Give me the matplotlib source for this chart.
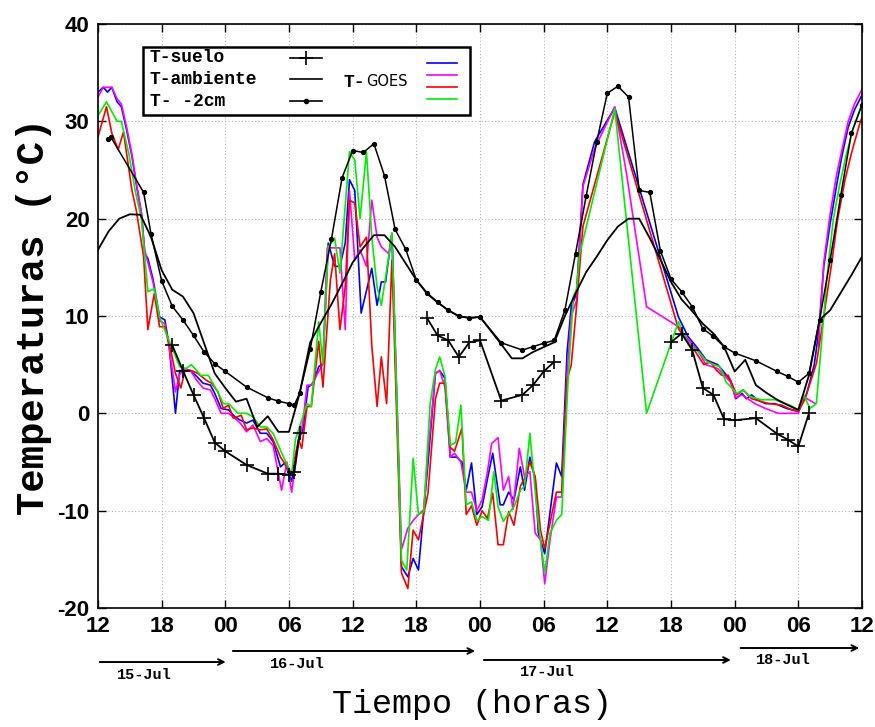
import matplotlib
matplotlib.use("Agg")
import matplotlib.pyplot as plt
import numpy as np

plt.rcParams['axes.unicode_minus'] = False

nan = np.nan

# hours since 15-Jul 12:00
xticks_h = list(range(0, 73, 6))
xtick_labels = ['12', '18', '00', '06', '12', '18', '00', '06', '12', '18', '00', '06', '12']
yticks_v = [-20, -10, 0, 10, 20, 30, 40]

suelo_h = [7, 8, 9, 10, 11, 12, 14, 16, 17, 18, 18.5, 19, nan,
           31, 32, 33, 34, 35, 36, 38, 40, 41, 42, 43, nan,
           54, 55, 56, 57, 58, 59, 60, 62, 64, 65, 66, 67]
suelo_v = [7.0, 4.4, 1.9, -0.5, -3.0, -3.9, -5.3, -6.2, -6.2, -6.3, -6.0, -2.05, nan,
           9.8, 8.0, 7.5, 5.8, 7.3, 7.5, 1.3, 1.9, 2.9, 4.3, 5.3, nan,
           7.3, 8.2, 6.5, 2.6, 1.9, -0.6, -0.7, -0.5, -2.1, -2.7, -3.4, 0.0]

amb_h = list(range(0, 73))
amb_v = [16.8, 18.7, 20.0, 20.45, 20.4, 18.1, 14.7, 12.7, 12.0, 10.3, 7.2, 4.1, 2.6, 1.2, 1.5,
         -1.4, -0.3, -1.9, -1.9, 2.05, 7.3, 9.3, 11.2, 13.3, 15.5, 17.0, 18.3, 18.3, 17.1, 15.4,
         13.7, 12.3, 11.4, 10.6, 10.0, 9.8, 9.9, 8.5, 7.1, 5.65, 5.65, 6.3, 6.8, 7.3, 10.0,
         12.3, 14.5, 16.1, 17.8, 19.2, 20.0, 20.0, 18.0, 15.8, 13.5, 11.7, 10.5, 9.2, 8.2,
         6.85, 4.3, 5.5, 2.9, 2.1, 1.4, 0.85, 0.35, 3.9, 9.6, 10.6, 12.4, 14.2, 16.1]

cm2_h = [0.9, 1.2, 4.3, 5, 6, 7, 8, 9, 10, 11, 12, 14, 16, 17, 18, 18.5,
         19, 20, 21, 22, 23, 24, 25, 26, 27, 28, 29, 30, 31, 32, 33, 34, 35, 36, 38,
         40, 41, 42, 43, 44, 45, 46, 47, 48, 49, 50, 51, 52, 53, 54, 55, 56, 57, 58, 59, 60,
         62, 64, 65, 66, 67, 68, 69, 70, 71, 72]
cm2_v = [28.2, 28.4, 22.7, 18.4, 13.6, 11.0, 9.6, 8.0, 6.3, 5.1, 4.3, 2.7, 1.6, 1.25, 1.0, 0.85,
         2.05, 6.6, 12.5, 17.9, 24.2, 27.0, 26.8, 27.7, 24.4, 18.9, 16.85, 13.7, 12.4, 11.4,
         10.6, 9.95, 9.8, 9.9, 7.25,
         6.5, 6.85, 7.2, 7.5, 10.6, 16.4, 22.3, 27.9, 32.9, 33.6, 32.5, 22.9, 22.7, 16.7, 13.8,
         12.5, 10.95, 8.7, 7.9, 6.85, 6.2,
         5.4, 4.3, 3.8, 3.2, 4.1, 9.6, 15.75, 22.4, 28.8, 31.7]

blue_h = [0.0, 0.5, 0.9, 1.3, 1.8, 2.2, 2.7, 3.2, 3.6, 4.1, 4.4, 4.7, 5.2, 5.8, 6.3, 6.7, 7.3, 7.7,
          8.2, 8.7, 9.3, 9.9, 10.6, 11.0, 11.6, 12.3, 12.9, 13.4, 14.0, 14.6, 15.3, 15.9, 16.5,
          17.2, 17.6, 18.25, 18.9, 19.3, 19.8, 20.3, 20.8, 21.2, 21.7, 22.3, 22.8, 23.3, 23.7,
          24.2, 24.8, 25.8, 26.3, 26.7, 27.1, 27.7, 28.6, 29.2, 29.7, 30.2, 31.1, 31.8, 32.2,
          32.7, 33.2, 33.8, 34.3, 34.7, 35.2, 35.7, 36.2, 36.8, 37.2, 37.9, 38.2, 38.7, 39.2,
          39.8, 40.2, 40.7, 41.2, 41.5, 42.1, 43.2, 43.7, 44.2, 44.6, 45.1, 45.7, 46.8, 48.7,
          54.7, 55.6, 56.5, 57.3, 58.4, 59.1, 59.6, 60.1, 60.7, 61.1, 61.6, 62.1, 62.9, 63.8,
          64.9, 65.5, 66.0, 66.8, 67.5, 67.9, 68.4, 69.0, 69.7, 70.1, 70.7, 71.3, 72.0]
blue_v = [33.0, 33.5, 33.0, 33.5, 32.0, 31.5, 29.1, 26.4, 23.6, 20.5, 16.4, 15.9, 13.7, 9.9, 9.6,
          7.0, 0.0, 4.4, 4.4, 4.4, 3.8, 3.1, 2.9, 2.05, 0.5, 0.35, -0.35, -0.7, -1.0, -0.7, -2.05,
          -2.05, -2.9, -5.5, -5.1, -7.0, -2.7, -1.7, 2.7, 3.1, 4.8, 5.1, 17.5, 15.1, 15.1, 17.5,
          24.0, 22.9, 10.3, 14.9, 11.1, 13.5, 13.5, 18.5, -15.75, -16.8, -14.9, -16.1, -5.1,
          4.1, 4.4, 3.6, -4.5, -4.5, -5.0, -7.9, -5.1, -10.4, -9.6, -6.2, -4.1, -9.4, -9.4,
          -8.1, -8.9, -5.5, -7.9, -4.5, -6.7, -12.3, -14.4, -5.1, -6.5, 6.2, 10.95, 12.3, 23.5,
          27.9, 31.4, 9.9, 7.9, 6.7, 5.5, 5.0, 4.1, 3.4, 1.5, 2.05, 1.5, 1.9, 1.4, 1.0, 1.0,
          0.5, 0.35, 0.2, 2.05, 5.0, 8.2, 15.1, 19.5, 24.0, 26.4, 29.4, 31.2, 32.7]

mag_h = [0.0, 0.5, 0.9, 1.3, 1.8, 2.2, 2.7, 3.2, 3.6, 4.1, 4.4, 4.7, 5.2, 5.8, 6.3, 6.7, 7.3, 7.7,
         8.2, 8.7, 9.3, 9.9, 10.6, 11.0, 11.6, 12.3, 12.9, 13.4, 14.0, 14.6, 15.3, 15.9, 16.5,
         17.3, 17.8, 18.25, 18.9, 19.3, 19.7, 20.1, 20.8, 21.2, 21.6, 22.0, 22.8, 23.3, 23.7,
         24.2, 24.7, 25.3, 25.8, 26.3, 26.7, 27.4, 27.7, 28.6, 29.2, 29.7, 30.2, 30.7, 31.1,
         31.8, 32.2, 32.7, 33.2, 33.6, 34.2, 34.7, 35.2, 35.7, 36.2, 36.7, 37.1, 37.7, 38.2,
         38.7, 39.1, 39.7, 40.2, 40.7, 41.2, 41.7, 42.1, 42.6, 43.2, 43.7, 44.2, 44.6, 45.1,
         45.7, 46.8, 48.7, 49.8, 51.7, 54.7, 55.6, 56.5, 57.3, 58.4, 59.1, 59.6, 60.1, 60.7,
         61.1, 61.9, 62.9, 64.1, 66.0, 66.5, 67.6, nan, 67.9, 68.4, 69.0, 69.6, 70.1, 70.7,
         71.3, 72.0]
mag_v = [32.5, 33.5, 33.5, 33.5, 32.3, 31.8, 29.4, 26.6, 23.8, 20.5, 16.8, 15.5, 13.4, 9.5, 9.2,
         6.8, 2.2, 4.0, 4.6, 4.4, 3.4, 2.6, 2.4, 1.5, 0.0, 0.0, -0.5, -1.0, -1.9, -1.2, -2.9,
         -2.6, -3.3, -7.9, -5.0, -8.1, -3.0, -1.0, 2.9, 2.9, 4.3, 5.1, 17.0, 17.0, 17.0, 8.6,
         22.9, 15.75, 16.8, 15.1, 21.9, 18.1, 17.1, 16.4, 18.5, -14.0, -11.8, -11.0, -10.4,
         -9.9, -4.0, 4.1, 4.4, 2.7, -4.5, -4.1, -5.0, -8.1, -8.1, -10.0, -8.9, -6.0, -3.1,
         -2.5, -7.9, -6.5, -9.9, -3.6, -6.5, -6.0, -12.3, -13.0, -17.5, -13.0, -8.6, -8.6, 4.0,
         10.0, 11.6, 23.3, 27.2, 31.5, 24.7, 10.95, 8.9, 7.6, 6.5, 5.0, 4.6, 3.8, 3.2, 1.6,
         1.9, 1.6, 1.0, 0.5, 0.0, 0.0, 1.7, 1.0, nan, 7.0, 15.5, 20.5, 24.5, 27.0, 30.0, 31.8,
         33.3]

red_h = [0.0, 0.8, 1.3, 1.9, 2.4, 3.2, 3.6, 4.3, 4.7, 5.3, 5.8, 6.3, 6.8, 7.3, 7.8, 8.2, 8.8,
         9.4, 10.2, 10.7, 11.3, 11.8, 12.3, 12.75, 13.5, 14.0, 14.6, 15.3, 15.9, 16.5, 17.2,
         18.25, 18.9, 19.2, 19.7, 20.1, 20.8, 21.2, 21.9, 22.3, 22.8, 23.3, 23.7, 24.2, 24.7,
         25.3, 25.8, 26.3, 26.7, 27.2, 27.7, 28.6, 29.2, 29.7, 30.2, 31.1, 31.8, 32.2, 32.7,
         33.2, 33.6, 34.3, 34.7, 35.2, 35.7, 36.2, 36.7, 37.2, 37.7, 38.2, 38.7, 39.2, 39.8,
         40.2, 40.7, 41.2, 41.7, 42.1, 43.2, 43.7, 44.2, 44.6, 45.1, 45.7, 48.7, 54.7, 55.0,
         56.2, 57.1, 57.7, 58.3, 58.8, 59.4, 60.2, 60.8, 61.6, 63.2, 64.4, 65.4, 66.0, 66.6,
         67.7, 68.4, 69.1, 69.7, 70.4, 71.0, 71.8, 72.0]
red_v = [28.4, 31.5, 28.8, 27.1, 28.9, 22.9, 20.9, 16.1, 8.6, 12.3, 8.9, 8.9, 6.8, 4.1, 2.6,
         4.4, 4.4, 4.1, 3.4, 3.1, 2.2, 0.5, 0.85, -0.5, -0.2, -1.7, -1.5, -1.7, -1.6, -2.7,
         -4.5, -6.2, -2.7, -3.6, 0.7, 0.7, 7.4, 2.7, 13.7, 16.4, 8.6, 13.0, 21.9, 21.6, 17.1,
         18.1, 7.0, 0.7, 5.8, 1.0, 15.75, -16.4, -18.0, -12.0, -13.0, -8.2, 1.5, 3.1, 3.1,
         -3.5, -3.9, -1.5, -10.4, -9.5, -11.5, -10.0, -10.8, -8.2, -13.5, -13.5, -10.1, -11.5,
         -7.5, -6.7, -5.0, -6.5, -12.0, -13.9, -8.1, -8.1, 3.4, 5.0, 11.0, 19.2, 31.0, 8.7,
         8.2, 6.5, 5.0, 5.3, 4.4, 3.9, 3.9, 1.9, 2.4, 1.5, 1.0, 0.85, 0.35, 0.2, 1.4, 5.1,
         10.0, 15.1, 19.9, 24.0, 26.7, 29.8, 30.4]

green_h = [0.0, 0.8, 1.8, 2.2, 2.9, 3.5, 4.1, 4.7, 5.3, 5.8, 6.8, 7.7, 8.3, 8.8, 9.7, 10.4, 11.3,
           11.8, 12.3, 13.2, 14.0, 14.6, 15.3, 15.9, 16.5, 17.2, 18.25, 18.6, 18.9, 19.7, 20.1,
           20.8, 21.2, 21.7, 22.3, 22.8, 23.7, 24.2, 24.7, 25.3, 25.8, 26.3, 26.7, 27.4, 27.7,
           28.6, 29.1, 29.7, 30.2, 30.7, 31.3, 31.8, 32.2, 32.7, 33.2, 33.7, 34.2, 34.7, 35.2,
           35.7, 36.2, 36.8, 37.3, 37.7, 38.2, 38.7, 39.2, 39.8, 40.2, 40.7, 41.2, 41.5, 42.1,
           42.6, 43.2, 43.7, 44.3, 44.8, 45.1, 45.4, 48.7, 51.7, 54.7, 55.6, 56.7, 57.4, 58.0,
           58.6, 59.2, 60.2, 60.8, 61.5, 62.5, 63.8, 65.2, 66.0, 66.5, 67.1, 67.7, 68.2, 68.7,
           69.3, 69.9, 70.5, 71.1, 72.0]
green_v = [30.6, 32.0, 30.0, 30.0, 26.7, 22.9, 19.9, 12.5, 12.8, 9.9, 7.2, 4.8, 4.6, 5.0, 3.9,
           3.9, 2.2, 1.0, 1.0, 0.0, 0.0, -0.35, -1.4, -1.4, -2.05, -3.8, -6.3, -2.7, -1.7, 1.0,
           0.7, 9.4, 5.1, 17.1, 18.0, 14.4, 26.9, 26.0, 20.0, 26.9, 18.1, 13.0, 11.1, 16.1, 18.5,
           -15.1, -16.1, -4.6, -10.4, -10.1, 1.0, 4.5, 5.8, 3.8, -3.3, -3.0, 0.85, -9.4, -9.1,
           -11.0, -10.6, -11.0, -6.0, -9.6, -11.1, -10.3, -9.6, -7.9, -7.5, -2.05, -8.0, -11.3,
           -16.4, -12.3, -11.0, -10.4, 3.4, 12.0, 12.8, 16.4, 31.3, 0.0, 9.4, 7.2, 6.2, 5.3, 5.0,
           4.8, 3.2, 2.05, 2.4, 1.7, 1.4, 1.4, 0.85, 0.35, 1.9, 0.5, 1.0, 7.5, 14.0, 20.0, 23.5,
           26.5, 29.0, 31.8]

days = ['15-Jul', '16-Jul', '17-Jul', '18-Jul']

mono = ['Liberation Mono', 'DejaVu Sans Mono']
narrow = ['Liberation Sans Narrow', 'Liberation Sans', 'DejaVu Sans']

fig = plt.figure(figsize=(8.75, 7.27), dpi=100)
ax = fig.add_axes([98/875, 1 - 608/727, 764/875, 584/727])

ax.plot(blue_h, blue_v, color='#0000ff', lw=1.2)
ax.plot(mag_h, mag_v, color='#ff00ff', lw=1.2)
ax.plot(red_h, red_v, color='#ff0000', lw=1.2)
ax.plot(green_h, green_v, color='#00ee00', lw=1.2)

ax.plot(amb_h, amb_v, color='black', lw=1.3)
ax.plot(cm2_h, cm2_v, color='black', lw=1.1, marker='o', ms=2.8)
ax.plot(suelo_h, suelo_v, color='black', lw=1.3, marker='+', ms=10, mew=1.2)

ax.set_xlim(0, 72)
ax.set_ylim(-20, 40)
ax.set_xticks(xticks_h)
ax.set_xticklabels(xtick_labels)
ax.set_yticks(yticks_v)
ax.grid(True, linestyle=(0, (1, 2)), color='#b0b0b0', lw=0.8)
ax.tick_params(direction='in', top=True, right=True, length=6, width=1, pad=6)
for lab in ax.get_xticklabels() + ax.get_yticklabels():
    lab.set_family(narrow)
    lab.set_fontsize(16)
    lab.set_fontweight('bold')
for sp in ax.spines.values():
    sp.set_linewidth(1.2)

ax.set_ylabel('Temperaturas (°C)', family=mono, fontsize=28, fontweight='bold', labelpad=4)
fig.text(472/875, 1 - 705/727, 'Tiempo (horas)', family=mono, fontsize=24,
         ha='center', va='center')

# legend box drawn by hand (gnuplot style)
tr = ax.transAxes
box = plt.Rectangle((0.059, 0.844), 0.428, 0.117, transform=tr, fill=True,
                    facecolor='white', edgecolor='black', lw=1.8, zorder=5)
ax.add_patch(box)
rows = [0.942, 0.905, 0.868]
names = ['T-suelo', 'T-ambiente', 'T- -2cm']
for y, name in zip(rows, names):
    ax.text(0.068, y, name, transform=tr, family=mono, fontsize=13, fontweight='bold',
            va='center', zorder=6)
ax.plot([0.251, 0.293], [rows[0]] * 2, transform=tr, color='black', lw=1.2, zorder=6)
ax.plot([0.272], [rows[0]], transform=tr, color='black', marker='+', ms=10, mew=1.2, zorder=6)
ax.plot([0.251, 0.293], [rows[1]] * 2, transform=tr, color='black', lw=1.2, zorder=6)
ax.plot([0.251, 0.293], [rows[2]] * 2, transform=tr, color='black', lw=1.2, zorder=6)
ax.plot([0.272], [rows[2]], transform=tr, color='black', marker='o', ms=3, zorder=6)
ax.text(0.321, 0.899, 'T-', transform=tr, family=mono, fontsize=13, fontweight='bold',
        va='center', zorder=6)
ax.text(0.351, 0.901, 'GOES', transform=tr, family='DejaVu Sans', fontsize=10.5,
        va='center', zorder=6)
for y, c in zip([0.933, 0.913, 0.892, 0.872], ['#0000ff', '#ff00ff', '#ff0000', '#00ee00']):
    ax.plot([0.431, 0.470], [y, y], transform=tr, color=c, lw=1.2, zorder=6)

# day arrows under the time axis
arrows = [(-0.1, 12.3, -0.0925), (12.45, 35.8, -0.0736), (36.1, 59.9, -0.089), (60.3, 72.0, -0.0685)]
label_pos = [(4.4, -0.115), (18.8, -0.096), (42.3, -0.110), (64.6, -0.089)]
for (x0, x1, y), (lx, ly), d in zip(arrows, label_pos, days):
    ax.annotate('', xy=(x1, y), xytext=(x0, y), xycoords=('data', 'axes fraction'),
                textcoords=('data', 'axes fraction'),
                arrowprops=dict(arrowstyle='->', lw=1.4, color='black'), annotation_clip=False)
    ax.annotate(d, xy=(lx, ly), xycoords=('data', 'axes fraction'), family=mono,
                fontsize=11, fontweight='bold', ha='center', va='center', annotation_clip=False)

fig.savefig('out.png', dpi=100)
